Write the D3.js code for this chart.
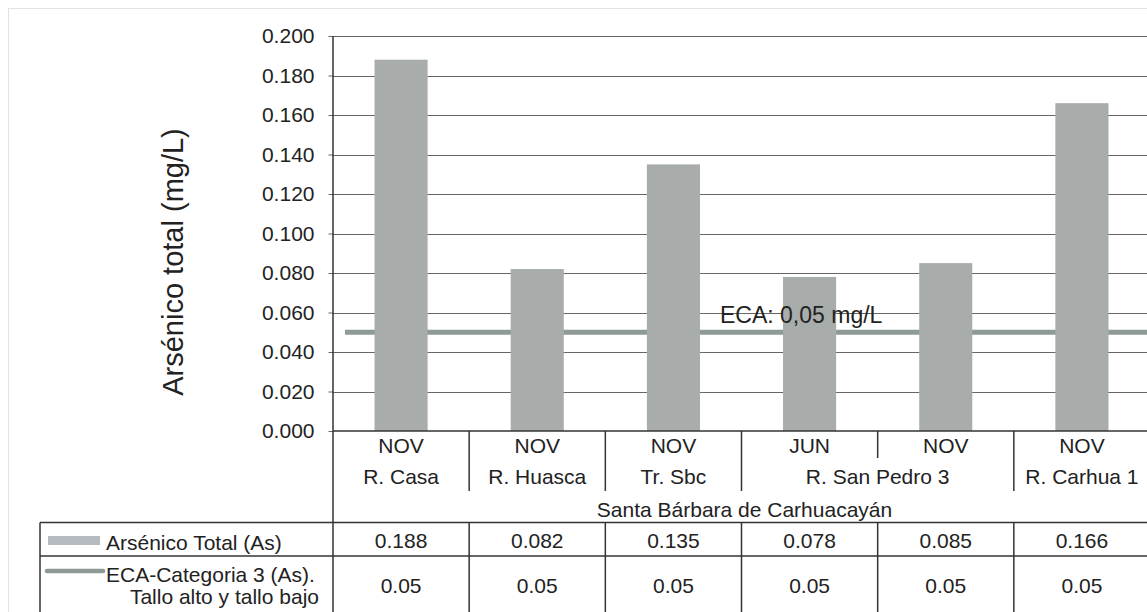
<!DOCTYPE html>
<html>
<head>
<meta charset="utf-8">
<script src="https://cdn.jsdelivr.net/npm/d3@7"></script>
<style>
  body { margin: 0; background: #fff; }
  text { font-family: "Liberation Sans", Arial, sans-serif; fill: #222; }
</style>
</head>
<body>
<div id="chart"></div>
<script>
// data
const months = ["NOV", "NOV", "NOV", "JUN", "NOV", "NOV"];
const sites = ["R. Casa", "R. Huasca", "Tr. Sbc", "R. San Pedro 3", "R. San Pedro 3", "R. Carhua 1"];
const region = "Santa Bárbara de Carhuacayán";
const arsenic = [0.188, 0.082, 0.135, 0.078, 0.085, 0.166];
const arsenicLabels = ["0.188", "0.082", "0.135", "0.078", "0.085", "0.166"];
const eca = [0.05, 0.05, 0.05, 0.05, 0.05, 0.05];
const ecaLabels = ["0.05", "0.05", "0.05", "0.05", "0.05", "0.05"];
const yTicks = [0, 0.02, 0.04, 0.06, 0.08, 0.10, 0.12, 0.14, 0.16, 0.18, 0.20];

const width = 1147, height = 612;
const plotLeft = 333, plotRight = 1150, plotTop = 36, base = 431;
const fs = 21;

const svg = d3.select("#chart").append("svg")
    .attr("width", width)
    .attr("height", height);

// faint outer frame of the chart area
svg.append("rect")
    .attr("x", 8.5).attr("y", 8.5)
    .attr("width", 1160).attr("height", 640)
    .attr("fill", "none")
    .attr("stroke", "#e2e2e2");

let x = d3.scaleBand().domain(d3.range(months.length)).range([plotLeft, plotRight]);
let y = d3.scaleLinear().domain([0, 0.2]).range([base, plotTop]);

// gridlines
svg.append("g").selectAll("line")
    .data(yTicks.slice(1))
    .join("line")
    .attr("x1", plotLeft).attr("x2", width)
    .attr("y1", d => Math.round(y(d)) + 0.5)
    .attr("y2", d => Math.round(y(d)) + 0.5)
    .attr("stroke", "#666")
    .attr("stroke-width", 1);

// ECA line (behind bars)
let ecaPts = [[x(0) + 12, eca[0]]].concat(eca.map((d, i) => [x(i) + x.bandwidth(), d]));
ecaPts[ecaPts.length - 1][0] = width;
svg.append("path")
    .datum(ecaPts)
    .attr("d", d3.line().x(d => d[0]).y(d => y(d[1])))
    .attr("fill", "none")
    .attr("stroke", "#8e9b95")
    .attr("stroke-width", 5);

// bars
const barW = x.bandwidth() * 0.39;
svg.append("g").selectAll("rect")
    .data(arsenic)
    .join("rect")
    .attr("x", (d, i) => x(i) + (x.bandwidth() - barW) / 2)
    .attr("y", d => y(d))
    .attr("width", barW)
    .attr("height", d => base - y(d))
    .attr("fill", "#a8adab");

// ECA label
svg.append("text")
    .attr("x", 720).attr("y", 323)
    .attr("font-size", 23)
    .text("ECA: 0,05 mg/L");

// y axis
let yAxis = svg.append("g")
    .attr("transform", "translate(" + (plotLeft + 0.5) + ",0)")
    .call(d3.axisLeft(y).tickValues(yTicks).tickFormat(d3.format(".3f")).tickSize(5).tickPadding(14));
yAxis.select(".domain").remove();
yAxis.selectAll(".tick line").attr("stroke", "#666");
yAxis.selectAll("text")
    .attr("font-size", fs)
    .attr("font-family", "Liberation Sans, Arial, sans-serif")
    .attr("fill", "#222");

svg.append("text")
    .attr("transform", "translate(183,262) rotate(-90)")
    .attr("text-anchor", "middle")
    .attr("font-size", 29)
    .attr("fill", "#2a2a2a")
    .text("Arsénico total (mg/L)");

// table lines
const lineCol = "#333";
const row1 = 522.5, row2 = 556;
let tbl = svg.append("g").attr("stroke", lineCol).attr("stroke-width", 1.5);
tbl.append("line").attr("x1", plotLeft).attr("x2", width).attr("y1", base).attr("y2", base);
tbl.append("line").attr("x1", plotLeft).attr("x2", plotLeft).attr("y1", plotTop).attr("y2", height);
tbl.append("line").attr("x1", 40).attr("x2", width).attr("y1", row1).attr("y2", row1);
tbl.append("line").attr("x1", 40).attr("x2", width).attr("y1", row2).attr("y2", row2);
tbl.append("line").attr("x1", 40).attr("x2", 40).attr("y1", row1).attr("y2", height);

// header separators
d3.range(1, months.length).forEach(i => {
    let full = sites[i] !== sites[i - 1];
    tbl.append("line")
        .attr("x1", x(i)).attr("x2", x(i))
        .attr("y1", base).attr("y2", full ? 491 : 458);
    tbl.append("line")
        .attr("x1", x(i)).attr("x2", x(i))
        .attr("y1", row1).attr("y2", height);
});

// header text
svg.append("g").selectAll("text")
    .data(months)
    .join("text")
    .attr("x", (d, i) => x(i) + x.bandwidth() / 2)
    .attr("y", 453)
    .attr("text-anchor", "middle")
    .attr("font-size", fs)
    .text(d => d);

let groups = [];
sites.forEach((s, i) => {
    let g = groups[groups.length - 1];
    if (g && g.name === s) g.end = i;
    else groups.push({name: s, start: i, end: i});
});
svg.append("g").selectAll("text")
    .data(groups)
    .join("text")
    .attr("x", d => (x(d.start) + x(d.end) + x.bandwidth()) / 2)
    .attr("y", 484)
    .attr("text-anchor", "middle")
    .attr("font-size", fs)
    .text(d => d.name);

svg.append("text")
    .attr("x", (plotLeft + plotRight) / 2 + 3)
    .attr("y", 517)
    .attr("text-anchor", "middle")
    .attr("font-size", fs)
    .text(region);

// data rows
svg.append("g").selectAll("text")
    .data(arsenicLabels)
    .join("text")
    .attr("x", (d, i) => x(i) + x.bandwidth() / 2)
    .attr("y", 548)
    .attr("text-anchor", "middle")
    .attr("font-size", fs)
    .text(d => d);

svg.append("g").selectAll("text")
    .data(ecaLabels)
    .join("text")
    .attr("x", (d, i) => x(i) + x.bandwidth() / 2)
    .attr("y", 593)
    .attr("text-anchor", "middle")
    .attr("font-size", fs)
    .text(d => d);

// legend cells
svg.append("rect")
    .attr("x", 48).attr("y", 536)
    .attr("width", 52).attr("height", 9)
    .attr("fill", "#b5bac1");
svg.append("text")
    .attr("x", 106).attr("y", 550)
    .attr("font-size", fs)
    .text("Arsénico Total (As)");

svg.append("line")
    .attr("x1", 47).attr("x2", 103)
    .attr("y1", 571).attr("y2", 571)
    .attr("stroke", "#8e9b95")
    .attr("stroke-width", 4.5)
    .attr("stroke-linecap", "round");
svg.append("text")
    .attr("x", 106).attr("y", 582)
    .attr("font-size", fs)
    .text("ECA-Categoria 3 (As).");
svg.append("text")
    .attr("x", 319).attr("y", 604)
    .attr("text-anchor", "end")
    .attr("font-size", fs)
    .text("Tallo alto y tallo bajo");
</script>
</body>
</html>
